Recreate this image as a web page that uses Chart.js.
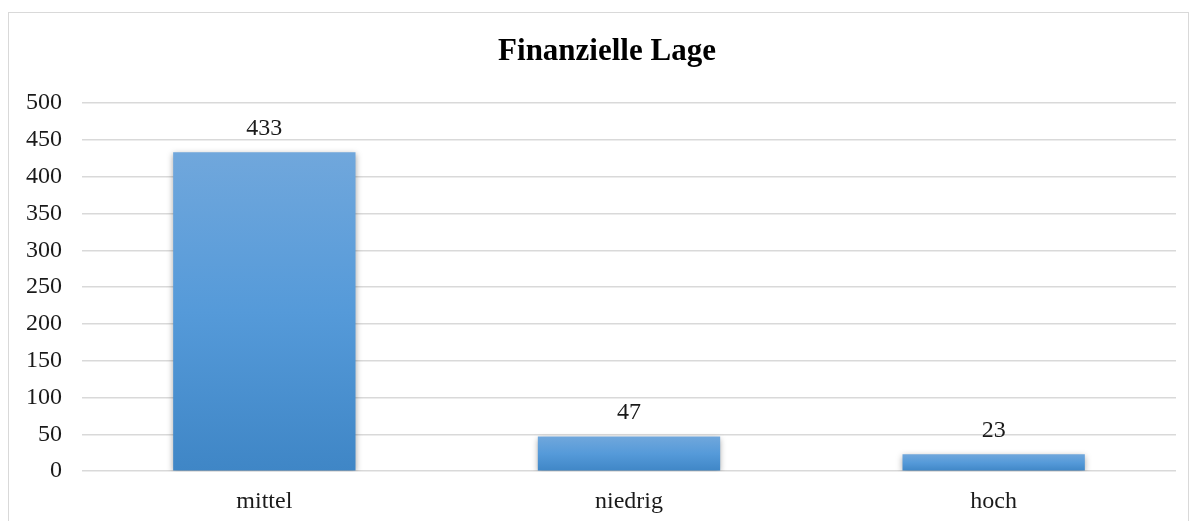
<!DOCTYPE html>
<html>
<head>
<meta charset="utf-8">
<script src="https://cdn.jsdelivr.net/npm/chart.js@4"></script>
<style>
  html, body { margin: 0; padding: 0; background: #fff; overflow: hidden; }
  #wrap { position: relative; width: 1193px; height: 521px; overflow: hidden; }
  #frame { position: absolute; left: 8px; top: 12px; width: 1181px; height: 520px; border: 1px solid #d9d9d9; box-sizing: border-box; }
  canvas { position: absolute; left: 0; top: 0; }
</style>
</head>
<body>
<div id="wrap">
  <div id="frame"></div>
  <canvas id="chart" width="1193" height="538"></canvas>
</div>
<script>
const chartTitle = 'Finanzielle Lage'
const categories = ['mittel', 'niedrig', 'hoch']
const counts = [433, 47, 23]
const yTicks = [0, 50, 100, 150, 200, 250, 300, 350, 400, 450, 500]

const serif = '"Liberation Serif", "Times New Roman", serif'

// gradient per bar, light at the top, darker at the base
function barGradient(context) {
  const chart = context.chart
  const { ctx, chartArea, scales } = chart
  if (!chartArea) return '#5b9bd5'
  const top = scales.y.getPixelForValue(context.raw)
  const bottom = scales.y.getPixelForValue(0)
  const g = ctx.createLinearGradient(0, top, 0, bottom)
  g.addColorStop(0, '#70a7dc')
  g.addColorStop(0.5, '#559ad9')
  g.addColorStop(1, '#3f86c6')
  return g
}

const shadowPlugin = {
  id: 'barShadow',
  beforeDatasetsDraw(chart) {
    const ctx = chart.ctx
    ctx.save()
    ctx.shadowColor = 'rgba(0,0,0,0.35)'
    ctx.shadowBlur = 6
    ctx.shadowOffsetX = 0
    ctx.shadowOffsetY = 2
  },
  afterDatasetsDraw(chart) {
    chart.ctx.restore()
  }
}

// title sits a bit right of the canvas centre, like the original
const titlePlugin = {
  id: 'offsetTitle',
  afterDraw(chart) {
    const ctx = chart.ctx
    ctx.save()
    ctx.font = 'bold 31px ' + serif
    ctx.fillStyle = '#000'
    ctx.textAlign = 'center'
    ctx.textBaseline = 'middle'
    ctx.fillText(chartTitle, 607, 52)
    ctx.restore()
  }
}

const valueLabels = {
  id: 'valueLabels',
  afterDatasetsDraw(chart) {
    const ctx = chart.ctx
    const meta = chart.getDatasetMeta(0)
    ctx.save()
    ctx.font = '24px ' + serif
    ctx.fillStyle = '#1a1a1a'
    ctx.textAlign = 'center'
    ctx.textBaseline = 'middle'
    meta.data.forEach((bar, i) => {
      ctx.fillText(counts[i], bar.x, bar.y - 24)
    })
    ctx.restore()
  }
}

const config = {
  type: 'bar',
  data: {
    labels: categories,
    datasets: [{
      label: chartTitle,
      data: counts,
      backgroundColor: barGradient,
      borderWidth: 0,
      categoryPercentage: 1,
      barPercentage: 0.5
    }]
  },
  options: {
    responsive: false,
    animation: false,
    layout: {
      padding: { left: 20, right: 17, top: 103, bottom: 6 }
    },
    scales: {
      x: {
        grid: { display: false, drawTicks: false },
        border: { display: false },
        ticks: {
          color: '#1a1a1a',
          padding: 16,
          font: { family: serif, size: 24 }
        }
      },
      y: {
        min: 0,
        max: 500,
        afterFit(scale) { scale.width = 62 },
        afterBuildTicks(scale) { scale.ticks = yTicks.map(v => ({ value: v })) },
        grid: { color: '#d9d9d9', lineWidth: 1.5, drawTicks: false },
        border: { display: false },
        ticks: {
          color: '#1a1a1a',
          padding: 20,
          font: { family: serif, size: 24 }
        }
      }
    },
    plugins: {
      legend: { display: false },
      tooltip: { enabled: false },
      title: { display: false }
    }
  },
  plugins: [shadowPlugin, valueLabels, titlePlugin]
}

const chartElement = document.getElementById('chart').getContext('2d')
const chart = new Chart(chartElement, config)
</script>
</body>
</html>
